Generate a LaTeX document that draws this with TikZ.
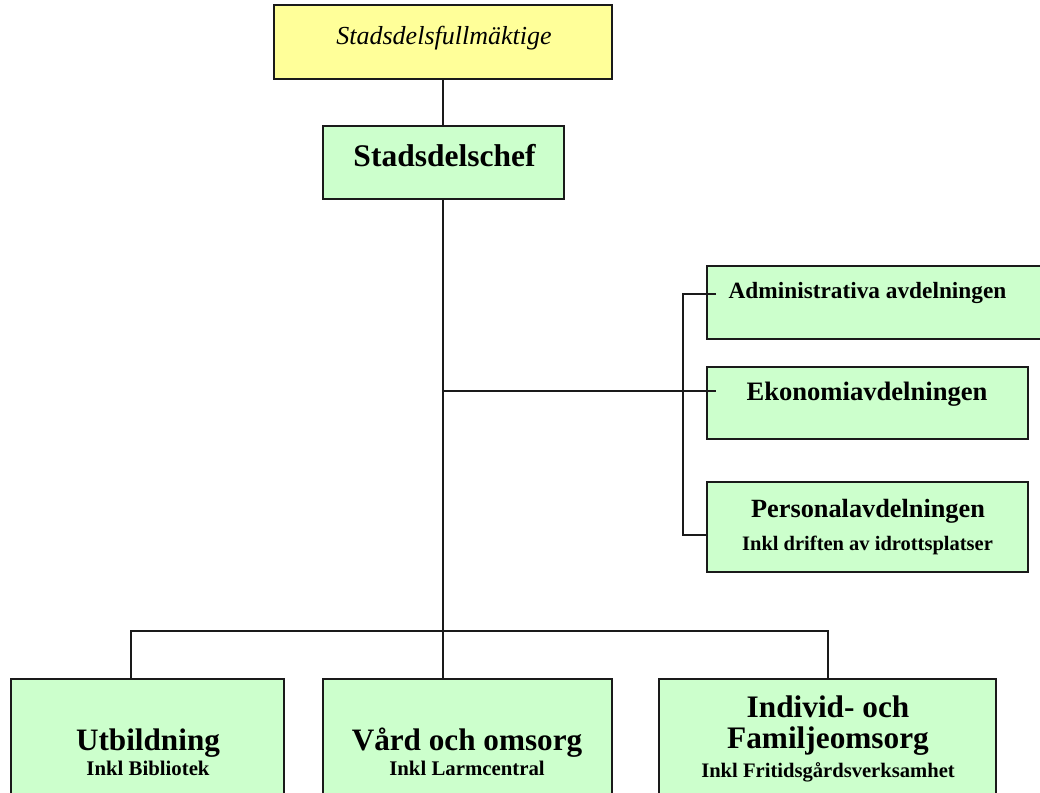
\documentclass[tikz,border=0pt]{standalone}
\usepackage{fontspec}
\setmainfont{Liberation Serif}
\definecolor{boxyellow}{HTML}{FFFF99}
\definecolor{boxgreen}{HTML}{CCFFCC}
\definecolor{edge}{HTML}{1A1A1A}
\tikzset{
  orgbox/.style={draw=edge, line width=2pt, rectangle, inner sep=0pt, outer sep=0pt, anchor=north west},
  ybox/.style={orgbox, fill=boxyellow},
  gbox/.style={orgbox, fill=boxgreen},
  lbl/.style={anchor=base, inner sep=0pt, outer sep=0pt, text=black, font=\bfseries},
  link/.style={draw=edge, line width=2pt}
}
\newcommand{\fsz}[1]{\fontsize{#1}{#1}\selectfont}
\begin{document}
\begin{tikzpicture}[x=1pt,y=-1pt]
\useasboundingbox (0,0) rectangle (1040,792);
\clip (0,0) rectangle (1040,792);
% boxes
\node[ybox, minimum width=338pt, minimum height=74pt] (top) at (274,5) {};
\node[gbox, minimum width=241pt, minimum height=73pt] (chef) at (323,126) {};
\node[gbox, minimum width=345pt, minimum height=73pt] (admin) at (707,266) {};
\node[gbox, minimum width=321pt, minimum height=72pt] (eko) at (707,367) {};
\node[gbox, minimum width=321pt, minimum height=90pt] (pers) at (707,482) {};
\node[gbox, minimum width=273pt, minimum height=130pt] (utb) at (11,679) {};
\node[gbox, minimum width=289pt, minimum height=130pt] (vard) at (323,679) {};
\node[gbox, minimum width=337pt, minimum height=130pt] (ind) at (659,679) {};
% texts
\node[lbl, font=\itshape] (ttop) at (444,45) {\fsz{26}Stadsdelsfullmäktige};
\node[lbl] (tchef) at (444.5,166) {\fsz{31.5}Stadsdelschef};
\node[lbl] (tadmin) at (867.5,298) {\fsz{23.3}Administrativa avdelningen};
\node[lbl] (teko) at (867,400) {\fsz{26.6}Ekonomiavdelningen};
\node[lbl] (tpers) at (868,517) {\fsz{26.3}Personalavdelningen};
\node[lbl] (tpers2) at (867.5,550) {\fsz{20.5}Inkl driften av idrottsplatser};
\node[lbl] (tutb) at (148,750) {\fsz{31.2}Utbildning};
\node[lbl] (tutb2) at (148,775) {\fsz{20.8}Inkl Bibliotek};
\node[lbl] (tvard) at (467,750) {\fsz{31.2}Vård och omsorg};
\node[lbl] (tvard2) at (467,775) {\fsz{20.8}Inkl Larmcentral};
\node[lbl] (tind1) at (828,717) {\fsz{31.3}Individ- och};
\node[lbl] (tind2) at (828,748) {\fsz{31.3}Familjeomsorg};
\node[lbl] (tind3) at (828,777) {\fsz{20.6}Inkl Fritidsgårdsverksamhet};
% junction coordinates
\coordinate (ekoj) at (443,391);
\coordinate (bracket) at (683,294);
\coordinate (busL) at (131,631);
\coordinate (busR) at (828,631);
% connectors
\draw[link] (top.south -| 443,0) -- (chef.north -| 443,0);
\draw[link] (chef.south -| 443,0) -- (vard.north -| 443,0);
\draw[link] (ekoj) -- ([xshift=9pt]eko.west |- ekoj);
\draw[link] ([xshift=9pt]admin.west |- bracket) -- (bracket) -- (bracket |- 0,535) -- (pers.west |- 0,535);
\draw[link] (busL |- utb.north) -- (busL) -- (busR) -- (busR |- ind.north);
\end{tikzpicture}
\end{document}
